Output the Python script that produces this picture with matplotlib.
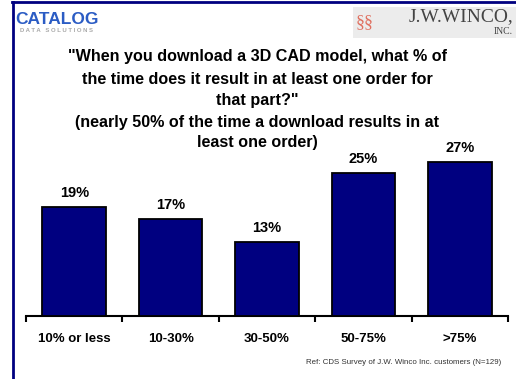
import matplotlib
matplotlib.use("Agg")
import matplotlib.pyplot as plt
from matplotlib.patches import Rectangle
from matplotlib.lines import Line2D

plt.rcParams['font.family'] = ['Liberation Sans', 'DejaVu Sans']

# data
categories = ['10% or less', '10-30%', '30-50%', '50-75%', '>75%']
percent = [19, 17, 13, 25, 27]
value_labels = ['19%', '17%', '13%', '25%', '27%']

title_lines = [
    '"When you download a 3D CAD model, what % of',
    'the time does it result in at least one order for',
    'that part?"',
    '(nearly 50% of the time a download results in at',
    'least one order)',
]
ref_note = 'Ref: CDS Survey of J.W. Winco Inc. customers (N=129)'

NAVY = '#000080'
W, H = 516, 379

fig = plt.figure(figsize=(W / 100, H / 100), dpi=100)
fig.patch.set_facecolor('white')

# frame lines (top and left)
fig.add_artist(Line2D([12 / W, 1], [1 - 2 / H, 1 - 2 / H], color=NAVY, lw=2))
fig.add_artist(Line2D([13 / W, 13 / W], [0, 1 - 2 / H], color=NAVY, lw=2))

# logos, drawn as text
fig.text(15 / W, 1 - 19 / H, 'CATALOG', color='#2b5cc4', fontsize=12.5,
         fontweight='bold', va='center', ha='left')
fig.text(20 / W, 1 - 31 / H, 'D A T A   S O L U T I O N S', color='#a8a8a8',
         fontsize=4.3, fontweight='bold', va='center', ha='left')

fig.add_artist(Rectangle((353 / W, 1 - 38 / H), 163 / W, 31 / H,
                         transform=fig.transFigure, facecolor='#ececec',
                         edgecolor='none'))
fig.text(356 / W, 1 - 23 / H, '\u00a7\u00a7', color='#e07060', fontsize=13,
         va='center', ha='left', family='Liberation Serif')
fig.text(513 / W, 1 - 17 / H, 'J.W.WINCO,', color='#444444', fontsize=14,
         va='center', ha='right', family='Liberation Serif')
fig.text(513 / W, 1 - 32 / H, 'INC.', color='#444444', fontsize=7,
         va='center', ha='right', family='Liberation Serif')

# title block
title_y = [57, 79, 101, 122, 143]
for line, y in zip(title_lines, title_y):
    fig.text(257 / W, 1 - y / H, line, fontsize=11.6, fontweight='bold',
             ha='center', va='center')

fig.text(501 / W, 1 - 362 / H, ref_note, fontsize=5.7, color='#333333',
         ha='right', va='center')

# bar chart
ax = fig.add_axes([26 / W, (H - 316) / H, (508 - 26) / W, 30 * 5.72 / H])
x = [i + 0.5 for i in range(len(categories))]
bars = ax.bar(x, percent, width=0.66, color=NAVY, edgecolor='black',
              linewidth=1.3, zorder=3)
for b, lab in zip(bars, value_labels):
    ax.annotate(lab, (b.get_x() + b.get_width() / 2, b.get_height()),
                xytext=(0, 5), textcoords='offset points', ha='center',
                va='bottom', fontsize=10.5, fontweight='bold')

ax.set_xlim(0, len(categories))
ax.set_ylim(0, 30)
ax.set_yticks([])
for s in ['top', 'right', 'left']:
    ax.spines[s].set_visible(False)
ax.spines['bottom'].set_linewidth(1.5)

ax.set_xticks(range(len(categories) + 1))
ax.set_xticklabels([])
ax.tick_params(axis='x', which='major', direction='out', length=4, width=1.5)
ax.set_xticks(x, minor=True)
ax.set_xticklabels(categories, minor=True, fontsize=9.5, fontweight='bold')
ax.tick_params(axis='x', which='minor', length=0, pad=12)

fig.savefig('out.png', dpi=100, facecolor='white')
